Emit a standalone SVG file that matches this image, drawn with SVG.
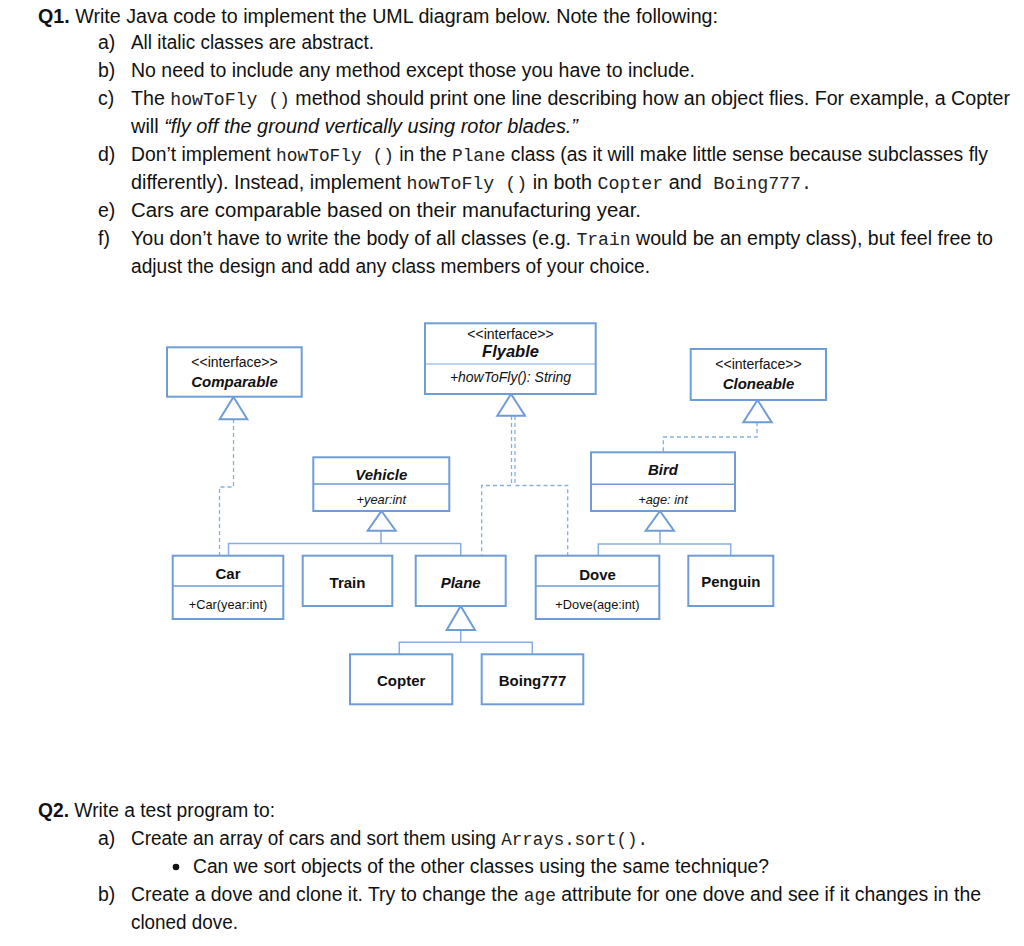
<svg xmlns="http://www.w3.org/2000/svg" width="1024" height="946" viewBox="0 0 1024 946">
<style>
.t{font-family:"Liberation Sans",Arial,sans-serif;font-size:19.5px;fill:#111}
.b{font-weight:bold}
.i{font-style:italic}
.m{font-family:"Liberation Mono","Courier New",monospace;font-size:18px;fill:#222}
.box{fill:#fff;stroke:#6e9dd6;stroke-width:2}
.div{stroke:#6e9dd6;stroke-width:1.5;fill:none}
.st{font-family:"Liberation Sans",Arial,sans-serif;font-size:14px;fill:#111;text-anchor:middle}
.nm{font-family:"Liberation Sans",Arial,sans-serif;font-size:15px;font-weight:bold;fill:#111;text-anchor:middle}
.mb{font-family:"Liberation Sans",Arial,sans-serif;font-size:12.8px;fill:#111;text-anchor:middle}
.ln{fill:none;stroke:#86aee0;stroke-width:1.5}
.ds{fill:none;stroke:#86aee0;stroke-width:1.3;stroke-dasharray:4 3}
.tri{fill:#fff;stroke:#6e9dd6;stroke-width:2}
</style>
<rect width="1024" height="946" fill="#fff"/>
<g id="text-q1">
<text class="t" x="38" y="23" textLength="680" lengthAdjust="spacingAndGlyphs"><tspan class="b">Q1.</tspan> Write Java code to implement the UML diagram below. Note the following:</text>
<text class="t" x="98" y="49">a)</text><text class="t" x="131" y="49" textLength="243" lengthAdjust="spacingAndGlyphs">All italic classes are abstract.</text>
<text class="t" x="98" y="77">b)</text><text class="t" x="131" y="77" textLength="564" lengthAdjust="spacingAndGlyphs">No need to include any method except those you have to include.</text>
<text class="t" x="98" y="105">c)</text><text class="t" x="131" y="105" textLength="879" lengthAdjust="spacingAndGlyphs">The <tspan class="m">howToFly ()</tspan> method should print one line describing how an object flies. For example, a Copter</text>
<text class="t" x="131" y="133" textLength="447" lengthAdjust="spacingAndGlyphs">will <tspan class="i">“fly off the ground vertically using rotor blades.”</tspan></text>
<text class="t" x="98" y="161">d)</text><text class="t" x="131" y="161" textLength="857" lengthAdjust="spacingAndGlyphs">Don’t implement <tspan class="m">howToFly ()</tspan> in the <tspan class="m">Plane</tspan> class (as it will make little sense because subclasses fly</text>
<text class="t" x="131" y="189" textLength="681" lengthAdjust="spacingAndGlyphs">differently). Instead, implement <tspan class="m">howToFly ()</tspan> in both <tspan class="m">Copter</tspan> and <tspan class="m" dx="6">Boing777.</tspan></text>
<text class="t" x="98" y="217">e)</text><text class="t" x="131" y="217" textLength="510" lengthAdjust="spacingAndGlyphs">Cars are comparable based on their manufacturing year.</text>
<text class="t" x="98" y="245">f)</text><text class="t" x="131" y="245" textLength="862" lengthAdjust="spacingAndGlyphs">You don’t have to write the body of all classes (e.g. <tspan class="m">Train</tspan> would be an empty class), but feel free to</text>
<text class="t" x="131" y="273" textLength="519" lengthAdjust="spacingAndGlyphs">adjust the design and add any class members of your choice.</text>
</g>
<g id="text-q2">
<text class="t" x="38" y="817" textLength="237" lengthAdjust="spacingAndGlyphs"><tspan class="b">Q2.</tspan> Write a test program to:</text>
<text class="t" x="98" y="845">a)</text><text class="t" x="131" y="845" textLength="517" lengthAdjust="spacingAndGlyphs">Create an array of cars and sort them using <tspan class="m">Arrays.sort().</tspan></text>
<circle cx="176" cy="867" r="3.3" fill="#111"/>
<text class="t" x="193" y="873" textLength="576" lengthAdjust="spacingAndGlyphs">Can we sort objects of the other classes using the same technique?</text>
<text class="t" x="98" y="901">b)</text><text class="t" x="131" y="901" textLength="850" lengthAdjust="spacingAndGlyphs">Create a dove and clone it. Try to change the <tspan class="m">age</tspan> attribute for one dove and see if it changes in the</text>
<text class="t" x="131" y="929" textLength="107" lengthAdjust="spacingAndGlyphs">cloned dove.</text>
</g>
<g id="connectors">
<path class="ds" d="M233.5 419 V487 H219.5 V556"/>
<path class="ds" d="M511.5 416 V485.5 H481.7 V556"/>
<path class="ds" d="M515 416 V485.5 H567.7 V556"/>
<path class="ds" d="M757 422 V437 H663.3 V452"/>
<path class="ln" d="M381 531 V543.5 M228.5 556 V543.5 H460.7 V556"/>
<path class="ln" d="M660 531 V544 M598.3 556 V544 H730.7 V556"/>
<path class="ln" d="M460.7 630 V642.3 M399.3 654 V642.3 H532.3 V654"/>
<path class="tri" d="M233.5 397 L247.3 419.3 L219.7 419.3 Z"/>
<path class="tri" d="M511 394 L525 415.7 L497.3 415.7 Z"/>
<path class="tri" d="M757.5 400 L771.7 422.3 L743.3 422.3 Z"/>
<path class="tri" d="M381.5 511 L395.7 530.7 L367.7 530.7 Z"/>
<path class="tri" d="M660 511 L674 530.7 L645.7 530.7 Z"/>
<path class="tri" d="M460.7 606 L475 630 L446.7 630 Z"/>
</g>
<g id="Comparable">
<rect class="box" x="167" y="347.3" width="134.7" height="49.4"/>
<text class="st" x="234.5" y="366.5">&lt;&lt;interface&gt;&gt;</text>
<text class="nm i" x="234.5" y="387">Comparable</text>
</g>
<g id="Flyable">
<rect class="box" x="425" y="323.3" width="170.7" height="70.7"/>
<line class="div" x1="425" y1="364" x2="595.7" y2="364" stroke-opacity="0.6"/>
<text class="st" x="510.5" y="338.5">&lt;&lt;interface&gt;&gt;</text>
<text class="nm i" x="510.5" y="356.5" style="font-size:16.5px">Flyable</text>
<text class="st i" x="510.5" y="382.3">+howToFly(): String</text>
</g>
<g id="Cloneable">
<rect class="box" x="690.7" y="349" width="135.3" height="51"/>
<text class="st" x="758.5" y="368.5">&lt;&lt;interface&gt;&gt;</text>
<text class="nm i" x="758.5" y="388.7">Cloneable</text>
</g>
<g id="Vehicle">
<rect class="box" x="313.3" y="457.3" width="136" height="53.7"/>
<line class="div" x1="313.3" y1="484" x2="449.3" y2="484"/>
<text class="nm i" x="381.3" y="479.7">Vehicle</text>
<text class="mb i" x="381.3" y="503.8">+year:int</text>
</g>
<g id="Bird">
<rect class="box" x="591" y="452.3" width="144" height="58.7"/>
<line class="div" x1="591" y1="484.3" x2="735" y2="484.3"/>
<text class="nm i" x="663" y="475.4">Bird</text>
<text class="mb i" x="663" y="503.8">+age: int</text>
</g>
<g id="Car">
<rect class="box" x="172.7" y="555.7" width="110.6" height="63.3"/>
<line class="div" x1="172.7" y1="586" x2="283.3" y2="586"/>
<text class="nm" x="228" y="578.7">Car</text>
<text class="mb" x="228" y="608.5">+Car(year:int)</text>
</g>
<g id="Train">
<rect class="box" x="302.7" y="555.7" width="89.6" height="50.3"/>
<text class="nm" x="347.5" y="587.7">Train</text>
</g>
<g id="Plane">
<rect class="box" x="415.7" y="555.7" width="90" height="50.3"/>
<text class="nm i" x="460.7" y="587.7">Plane</text>
</g>
<g id="Dove">
<rect class="box" x="535.7" y="555.7" width="123.6" height="63.3"/>
<line class="div" x1="535.7" y1="586" x2="659.3" y2="586"/>
<text class="nm" x="597.5" y="580.4">Dove</text>
<text class="mb" x="597.5" y="608.5">+Dove(age:int)</text>
</g>
<g id="Penguin">
<rect class="box" x="688.3" y="555.7" width="85" height="50.3"/>
<text class="nm" x="730.8" y="587.4">Penguin</text>
</g>
<g id="Copter">
<rect class="box" x="350" y="654.3" width="102.3" height="50"/>
<text class="nm" x="401.2" y="686.4">Copter</text>
</g>
<g id="Boing777">
<rect class="box" x="481.7" y="654.3" width="101.6" height="50"/>
<text class="nm" x="532.5" y="686.4">Boing777</text>
</g>
</svg>
